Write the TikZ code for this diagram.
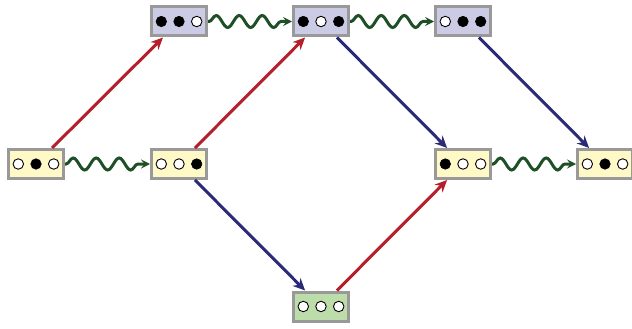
\documentclass[tikz,border=0pt]{standalone}
\usetikzlibrary{arrows.meta,decorations.pathmorphing,calc}
\definecolor{boxgray}{HTML}{999999}
\definecolor{yel}{HTML}{FFF9C8}
\definecolor{lav}{HTML}{CCCBE6}
\definecolor{grn}{HTML}{BCDDAA}
\definecolor{arred}{HTML}{B51F2A}
\definecolor{arblue}{HTML}{2B2A78}
\definecolor{wavegreen}{HTML}{1F4F26}
\tikzset{
  box/.style={draw=boxgray, line width=3pt, minimum width=55pt, minimum height=29pt, inner sep=0pt},
  fulldot/.style={circle, fill=black, draw=black, line width=0.6pt, minimum size=10.5pt, inner sep=0pt},
  emptydot/.style={circle, fill=white, draw=black, line width=0.9pt, minimum size=10.5pt, inner sep=0pt},
  redarr/.style={draw=arred, line width=3pt, -{Stealth[length=12pt,width=11pt]}},
  bluearr/.style={draw=arblue, line width=3pt, -{Stealth[length=12pt,width=11pt]}},
  wavy/.style={draw=wavegreen, line width=3pt, -{Stealth[length=9pt,width=9pt,inset=3.5pt]},
    decorate, decoration={snake, amplitude=6pt, segment length=23pt, pre length=1pt, post length=5pt}}
}
\newcommand{\stbox}[7]{%
  \node[box, fill=#4] (#1) at (#2,#3) {};
  \node[#5] (#1a) at ($(#1)+(-17.7,0)$) {};
  \node[#6] (#1b) at (#1) {};
  \node[#7] (#1c) at ($(#1)+(17.7,0)$) {};
}
\begin{document}
\begin{tikzpicture}[x=1pt,y=-1pt]
\useasboundingbox (0,0) rectangle (632,329);
\stbox{A}{36}{164}{yel}{emptydot}{fulldot}{emptydot}
\stbox{B}{179}{164}{yel}{emptydot}{emptydot}{fulldot}
\stbox{C}{179}{21.5}{lav}{fulldot}{fulldot}{emptydot}
\stbox{D}{321}{21.5}{lav}{fulldot}{emptydot}{fulldot}
\stbox{E}{463}{21.5}{lav}{emptydot}{fulldot}{fulldot}
\stbox{F}{463}{164}{yel}{fulldot}{emptydot}{emptydot}
\stbox{G}{605}{164}{yel}{emptydot}{fulldot}{emptydot}
\stbox{H}{321}{306.5}{grn}{emptydot}{emptydot}{emptydot}
\draw[redarr] (A) -- (C);
\draw[redarr] (B) -- (D);
\draw[redarr] (H) -- (F);
\draw[bluearr] (D) -- (F);
\draw[bluearr] (E) -- (G);
\draw[bluearr] (B) -- (H);
\draw[wavy] (A.east) -- (B.west);
\draw[wavy] (C.east) -- (D.west);
\draw[wavy] (D.east) -- (E.west);
\draw[wavy] (F.east) -- (G.west);
\end{tikzpicture}
\end{document}
